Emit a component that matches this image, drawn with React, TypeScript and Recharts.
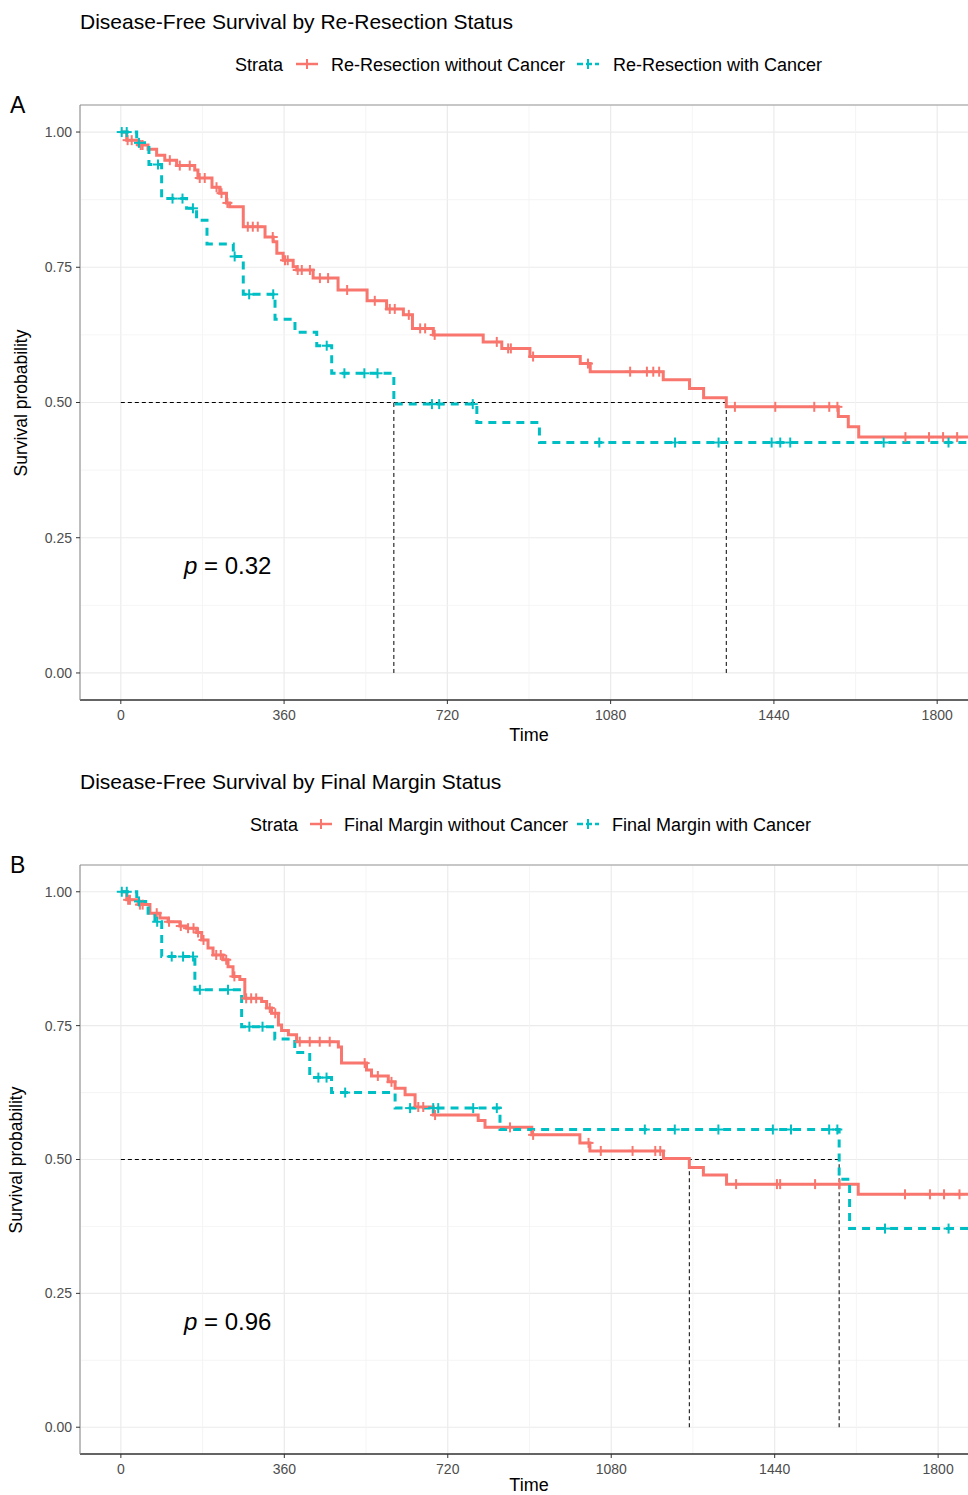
import React from "react";
import {
  ComposedChart,
  Line,
  Scatter,
  XAxis,
  YAxis,
  CartesianGrid,
  ReferenceLine,
} from "recharts";

const RED = "#F8766D";
const CYAN = "#00BFC4";
const FONT = '"Liberation Sans", Arial, Helvetica, sans-serif';

const timeTicks = [0, 360, 720, 1080, 1440, 1800];
const minorTimeTicks = [180, 540, 900, 1260, 1620];
const survTicks = [0, 0.25, 0.5, 0.75, 1];
const minorSurvTicks = [0.125, 0.375, 0.625, 0.875];

// --- panel A: re-resection status ---
const reResNoCancerTime = [
  0, 13, 38, 60, 79, 97, 123, 163, 170, 201, 218, 233, 240, 270, 318, 336, 344,
  358, 380, 388, 424, 479, 543, 586, 623, 643, 689, 799, 840, 902, 1013, 1035,
  1196, 1254, 1285, 1335, 1582, 1604, 1627, 1885,
];
const reResNoCancerSurv = [
  1, 0.985, 0.976, 0.968, 0.957, 0.948, 0.938, 0.93, 0.915, 0.898, 0.887, 0.869,
  0.862, 0.825, 0.806, 0.797, 0.776, 0.763, 0.751, 0.745, 0.73, 0.708, 0.688,
  0.673, 0.662, 0.637, 0.625, 0.612, 0.6, 0.585, 0.572, 0.557, 0.542, 0.526,
  0.509, 0.492, 0.474, 0.455, 0.436, 0.436,
];
const reResNoCancerCensor = [
  15, 24, 44, 48, 108, 130, 152, 174, 185, 211, 222, 235, 280, 291, 302, 335,
  362, 368, 390, 399, 417, 439, 457, 499, 560, 593, 604, 635, 660, 671, 692,
  829, 854, 860, 909, 1030, 1123, 1160, 1174, 1187, 1354, 1443, 1529, 1562,
  1580, 1730, 1782, 1813, 1844,
];
const reResCancerTime = [
  0, 35, 62, 90, 145, 167, 190, 248, 270, 340, 384, 432, 465, 602, 785, 923,
  1885,
];
const reResCancerSurv = [
  1, 0.98, 0.94, 0.877, 0.859, 0.837, 0.793, 0.77, 0.7, 0.654, 0.63, 0.605,
  0.554, 0.497, 0.463, 0.426, 0.426,
];
const reResCancerCensor = [
  2, 13, 40, 82, 114, 136, 159, 251, 283, 336, 454, 493, 537, 566, 686, 702,
  776, 1055, 1222, 1318, 1435, 1454, 1476, 1682, 1825,
];
const reResMedians = [602, 1335];

// --- panel B: final margin status ---
const marginNoCancerTime = [
  0, 13, 38, 64, 86, 104, 130, 145, 167, 178, 192, 203, 225, 236, 247, 262, 273,
  310, 321, 332, 347, 354, 369, 387, 479, 486, 541, 552, 589, 604, 626, 648,
  688, 787, 802, 905, 1011, 1033, 1195, 1252, 1283, 1334, 1624, 1885,
];
const marginNoCancerSurv = [
  1, 0.985, 0.976, 0.96, 0.951, 0.944, 0.936, 0.932, 0.924, 0.91, 0.895, 0.882,
  0.873, 0.86, 0.842, 0.836, 0.801, 0.795, 0.783, 0.773, 0.751, 0.741, 0.733,
  0.72, 0.71, 0.68, 0.667, 0.656, 0.645, 0.633, 0.621, 0.598, 0.583, 0.573,
  0.56, 0.546, 0.531, 0.516, 0.502, 0.485, 0.471, 0.454, 0.435, 0.435,
];
const marginNoCancerCensor = [
  16, 20, 42, 48, 79, 106, 132, 148, 160, 170, 182, 210, 220, 232, 250, 276,
  287, 298, 328, 340, 394, 416, 438, 460, 537, 566, 596, 655, 666, 692, 857,
  908, 1030, 1057, 1127, 1177, 1188, 1355, 1445, 1452, 1529, 1583, 1727, 1782,
  1813, 1847,
];
const marginCancerTime = [
  0, 35, 60, 75, 90, 163, 266, 339, 383, 416, 464, 604, 835, 1582, 1605, 1885,
];
const marginCancerSurv = [
  1, 0.982, 0.96, 0.944, 0.879, 0.817, 0.748, 0.725, 0.7, 0.653, 0.625, 0.596,
  0.556, 0.463, 0.371, 0.371,
];
const marginCancerCensor = [
  2, 13, 40, 80, 112, 137, 159, 174, 236, 283, 312, 435, 453, 494, 637, 688,
  699, 776, 828, 1154, 1220, 1316, 1436, 1476, 1560, 1578, 1683, 1823,
];
const marginMedians = [1252, 1582];

type Pt = { t: number; s: number };

function toCurve(times: number[], surv: number[]): Pt[] {
  return times.map((t, i) => ({ t, s: surv[i] }));
}

// censor marks sit on the curve at their time
function onCurve(curve: Pt[], times: number[]): Pt[] {
  return times.map((t) => {
    let s = curve[0].s;
    for (const p of curve) if (p.t <= t) s = p.s;
    return { t, s };
  });
}

const plus = (color: string) => (props: any) => {
  const { cx, cy } = props;
  return (
    <g stroke={color} strokeWidth={2}>
      <line x1={cx - 5} x2={cx + 5} y1={cy} y2={cy} />
      <line x1={cx} x2={cx} y1={cy - 5} y2={cy + 5} />
    </g>
  );
};

function KeyGlyph({ color, dashed, left, top }: any) {
  return (
    <svg
      width={24}
      height={14}
      style={{ position: "absolute", left, top }}
    >
      <line
        x1={0}
        x2={22}
        y1={7}
        y2={7}
        stroke={color}
        strokeWidth={2.5}
        strokeDasharray={dashed ? "6 3" : undefined}
      />
      <line x1={11} x2={11} y1={2} y2={12} stroke={color} strokeWidth={2} />
    </svg>
  );
}

interface PanelProps {
  top: number;
  plotHeight: number;
  rightMargin: number;
  title: string;
  letter: string;
  pval: string;
  strataLeft: number;
  redKeyLeft: number;
  redLabelLeft: number;
  redLabel: string;
  cyanKeyLeft: number;
  cyanLabelLeft: number;
  cyanLabel: string;
  yLabelX: number;
  timeLabelY: number;
  noCancer: Pt[];
  cancer: Pt[];
  noCancerCensor: Pt[];
  cancerCensor: Pt[];
  medians: number[];
}

function KMPanel(p: PanelProps) {
  const plotTop = 105;
  const chartH = plotTop + p.plotHeight + 60;
  const tickStyle = { fontSize: 14, fill: "#4d4d4d", fontFamily: FONT };
  const maxMedian = Math.max(...p.medians);
  const txt: React.CSSProperties = {
    position: "absolute",
    lineHeight: 1,
    whiteSpace: "nowrap",
    color: "#000",
  };
  return (
    <div style={{ position: "absolute", left: 0, top: p.top, width: 990, height: chartH }}>
      <div style={{ ...txt, left: 80, top: 11, fontSize: 21 }}>{p.title}</div>

      <div style={{ ...txt, left: p.strataLeft, top: 56, fontSize: 18 }}>Strata</div>
      <KeyGlyph color={RED} left={p.redKeyLeft} top={57} />
      <div style={{ ...txt, left: p.redLabelLeft, top: 56, fontSize: 18 }}>{p.redLabel}</div>
      <KeyGlyph color={CYAN} dashed left={p.cyanKeyLeft} top={57} />
      <div style={{ ...txt, left: p.cyanLabelLeft, top: 56, fontSize: 18 }}>{p.cyanLabel}</div>

      <div style={{ ...txt, left: 10, top: 94, fontSize: 23 }}>{p.letter}</div>

      <div
        style={{
          ...txt,
          left: p.yLabelX,
          top: plotTop + p.plotHeight / 2,
          fontSize: 17.5,
          transform: "translate(-50%, -50%) rotate(-90deg)",
        }}
      >
        Survival probability
      </div>
      <div
        style={{
          ...txt,
          left: 529,
          top: p.timeLabelY,
          fontSize: 18,
          transform: "translate(-50%, -50%)",
        }}
      >
        Time
      </div>

      <div style={{ position: "absolute", left: 0, top: 0 }}>
        <ComposedChart
          width={990}
          height={chartH}
          margin={{ top: plotTop, right: p.rightMargin, bottom: 0, left: 0 }}
        >
          {minorTimeTicks.map((t) => (
            <ReferenceLine key={"mx" + t} x={t} stroke="#f3f3f3" strokeWidth={0.8} />
          ))}
          {minorSurvTicks.map((s) => (
            <ReferenceLine key={"my" + s} y={s} stroke="#f3f3f3" strokeWidth={0.8} />
          ))}
          <CartesianGrid stroke="#ebebeb" strokeWidth={1.2} />
          <XAxis
            type="number"
            dataKey="t"
            domain={[-90, 1890]}
            ticks={timeTicks}
            allowDataOverflow
            height={60}
            tickSize={4}
            tickMargin={6}
            tick={tickStyle}
            axisLine={{ stroke: "#333", strokeWidth: 1.5 }}
            tickLine={{ stroke: "#333" }}
          />
          <YAxis
            type="number"
            dataKey="s"
            domain={[-0.05, 1.05]}
            ticks={survTicks}
            allowDataOverflow
            width={80}
            tickSize={4}
            tickMargin={4}
            tick={tickStyle}
            tickFormatter={(v: number) => v.toFixed(2)}
            axisLine={{ stroke: "#888" }}
            tickLine={{ stroke: "#333" }}
          />
          <ReferenceLine y={1.05} stroke="#999" />
          <ReferenceLine
            segment={[
              { x: 0, y: 0.5 },
              { x: maxMedian, y: 0.5 },
            ]}
            stroke="#000"
            strokeDasharray="4 3"
          />
          {p.medians.map((m) => (
            <ReferenceLine
              key={"med" + m}
              segment={[
                { x: m, y: 0 },
                { x: m, y: 0.5 },
              ]}
              stroke="#000"
              strokeDasharray="4 3"
            />
          ))}
          <Line
            data={p.noCancer}
            dataKey="s"
            type="stepAfter"
            stroke={RED}
            strokeWidth={3}
            dot={false}
            isAnimationActive={false}
          />
          <Line
            data={p.cancer}
            dataKey="s"
            type="stepAfter"
            stroke={CYAN}
            strokeWidth={3}
            strokeDasharray="8 6"
            dot={false}
            isAnimationActive={false}
          />
          <Scatter data={p.noCancerCensor} shape={plus(RED)} isAnimationActive={false} />
          <Scatter data={p.cancerCensor} shape={plus(CYAN)} isAnimationActive={false} />
        </ComposedChart>
      </div>

      <div style={{ ...txt, left: 184, top: plotTop + p.plotHeight * 0.755, fontSize: 24 }}>
        <i>p</i> = {p.pval}
      </div>
    </div>
  );
}

export default function App() {
  const resNo = toCurve(reResNoCancerTime, reResNoCancerSurv);
  const resCa = toCurve(reResCancerTime, reResCancerSurv);
  const marNo = toCurve(marginNoCancerTime, marginNoCancerSurv);
  const marCa = toCurve(marginCancerTime, marginCancerSurv);
  return (
    <div
      style={{
        position: "absolute",
        left: 0,
        top: 0,
        width: 968,
        height: 1495,
        overflow: "hidden",
        background: "#fff",
        fontFamily: FONT,
      }}
    >
      <KMPanel
        top={0}
        plotHeight={595}
        rightMargin={12}
        title="Disease-Free Survival by Re-Resection Status"
        letter="A"
        pval="0.32"
        strataLeft={235}
        redKeyLeft={296}
        redLabelLeft={331}
        redLabel="Re-Resection without Cancer"
        cyanKeyLeft={577}
        cyanLabelLeft={613}
        cyanLabel="Re-Resection with Cancer"
        yLabelX={22}
        timeLabelY={735}
        noCancer={resNo}
        cancer={resCa}
        noCancerCensor={onCurve(resNo, reResNoCancerCensor)}
        cancerCensor={onCurve(resCa, reResCancerCensor)}
        medians={reResMedians}
      />
      <KMPanel
        top={760}
        plotHeight={589}
        rightMargin={11}
        title="Disease-Free Survival by Final Margin Status"
        letter="B"
        pval="0.96"
        strataLeft={250}
        redKeyLeft={310}
        redLabelLeft={344}
        redLabel="Final Margin without Cancer"
        cyanKeyLeft={577}
        cyanLabelLeft={612}
        cyanLabel="Final Margin with Cancer"
        yLabelX={17}
        timeLabelY={725}
        noCancer={marNo}
        cancer={marCa}
        noCancerCensor={onCurve(marNo, marginNoCancerCensor)}
        cancerCensor={onCurve(marCa, marginCancerCensor)}
        medians={marginMedians}
      />
    </div>
  );
}
